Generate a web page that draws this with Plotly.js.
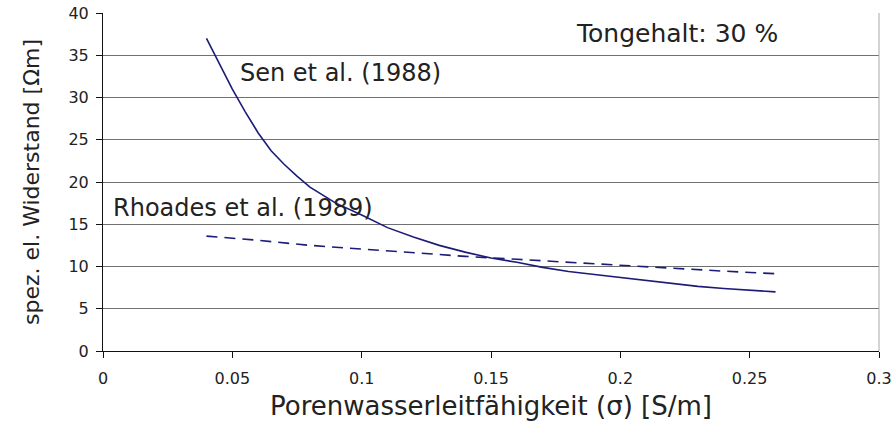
<!DOCTYPE html>
<html>
<head>
<meta charset="utf-8">
<script src="https://cdn.plot.ly/plotly-3.0.1.min.js"></script>
<style>html,body{margin:0;padding:0;background:#fff;}#chart{width:896px;height:426px;}</style>
</head>
<body>
<div id="chart"></div>
<script>
// Sen et al. (1988)
const senSigma = [0.04, 0.045, 0.05, 0.055, 0.06, 0.065, 0.07, 0.075, 0.08, 0.09, 0.1, 0.11, 0.12, 0.13, 0.14, 0.15, 0.16, 0.17, 0.18, 0.19, 0.2, 0.21, 0.22, 0.23, 0.24, 0.25, 0.26];
const senRho   = [37.0, 34.0, 31.0, 28.3, 25.8, 23.7, 22.1, 20.7, 19.4, 17.5, 16.1, 14.6, 13.5, 12.5, 11.7, 11.0, 10.5, 9.9, 9.4, 9.05, 8.7, 8.3, 8.0, 7.65, 7.4, 7.2, 7.0];
// Rhoades et al. (1989)
const rhoSigma = [0.04, 0.06, 0.08, 0.1, 0.12, 0.14, 0.16, 0.18, 0.2, 0.22, 0.24, 0.26];
const rhoRho   = [13.6, 13.1, 12.5, 12.05, 11.6, 11.2, 10.85, 10.5, 10.1, 9.75, 9.45, 9.15];

const xTicks = [0, 0.05, 0.1, 0.15, 0.2, 0.25, 0.3];
const xTickText = ["0", "0.05", "0.1", "0.15", "0.2", "0.25", "0.3"];
const yTicks = [0, 5, 10, 15, 20, 25, 30, 35, 40];

const navy = "#1b1b78";
const font = "DejaVu Sans, Liberation Sans, Arial, sans-serif";

const traces = [
  {x: senSigma, y: senRho, mode: "lines", line: {color: navy, width: 1.6}, name: "Sen et al. (1988)", hoverinfo: "skip"},
  {x: rhoSigma, y: rhoRho, mode: "lines", line: {color: navy, width: 1.6, dash: "11px,7px"}, name: "Rhoades et al. (1989)", hoverinfo: "skip"}
];

const layout = {
  width: 896, height: 426,
  margin: {l: 103, r: 17, t: 13, b: 75},
  paper_bgcolor: "#fff", plot_bgcolor: "#fff",
  showlegend: false,
  font: {family: font, color: "#222"},
  xaxis: {
    range: [0, 0.3], tickvals: xTicks, ticktext: xTickText,
    showgrid: false, zeroline: false,
    showline: true, linecolor: "#111", linewidth: 1,
    ticks: "outside", ticklen: 6, tickcolor: "#111", tickwidth: 1,
    tickfont: {size: 16, family: font, color: "#222"},
    ticklabelstandoff: 7,
    title: {text: "Porenwasserleitfähigkeit (σ) [S/m]", font: {size: 26, family: font, color: "#222"}, standoff: 9}
  },
  yaxis: {
    range: [0, 40], tickvals: yTicks,
    showgrid: true, gridcolor: "#707070", gridwidth: 1,
    zeroline: false,
    showline: true, linecolor: "#111", linewidth: 1,
    ticks: "outside", ticklen: 6, tickcolor: "#111", tickwidth: 1,
    tickfont: {size: 16, family: font, color: "#222"},
    ticklabelstandoff: 4,
    title: {text: "spez. el. Widerstand [Ωm]", font: {size: 22, family: font, color: "#222"}, standoff: 22}
  },
  shapes: [
    {type: "line", xref: "paper", yref: "paper", x0: 1, x1: 1, y0: 0, y1: 1, line: {color: "#a8a8a8", width: 1}}
  ],
  annotations: [
    {text: "Tongehalt: 30 %", xref: "x", yref: "y", x: 0.182, y: 37.6, xanchor: "left", yanchor: "middle", showarrow: false, font: {size: 25, family: font, color: "#222"}},
    {text: "Sen et al. (1988)", xref: "x", yref: "y", x: 0.052, y: 32.9, xanchor: "left", yanchor: "middle", showarrow: false, font: {size: 24, family: font, color: "#222"}},
    {text: "Rhoades et al. (1989)", xref: "x", yref: "y", x: 0.003, y: 16.9, xanchor: "left", yanchor: "middle", showarrow: false, font: {size: 24, family: font, color: "#222"}}
  ]
};

Plotly.newPlot("chart", traces, layout, {displayModeBar: false, staticPlot: true});
</script>
</body>
</html>
